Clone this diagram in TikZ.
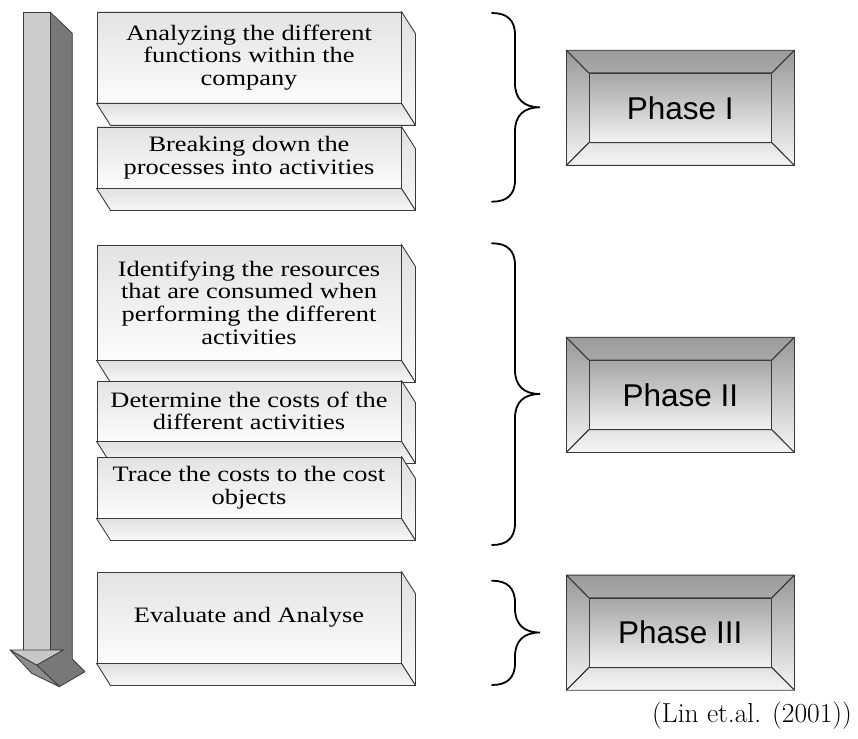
\documentclass[tikz,border=0pt]{standalone}
\usepackage{fontspec}
\usetikzlibrary{calc}
\newfontfamily\slabfont[FakeStretch=1.2]{Liberation Serif}
\newfontfamily\phasefont{Liberation Sans}

\definecolor{edgegray}{HTML}{3A3A3A}

\tikzset{
  edgeline/.style={draw=edgegray, line width=0.9pt, line join=round},
  slabfront/.style={edgeline, top color=black!11, bottom color=black!1,
    minimum width=304pt, inner sep=0pt, align=center,
    font=\slabfont\fontsize{22}{22.7}\selectfont},
  slabface/.style={edgeline, top color=black!12, bottom color=black!3},
  phaseouter/.style={edgeline, top color=black!40, bottom color=black!4,
    minimum width=227.3pt, minimum height=114.3pt, inner sep=0pt},
  phaseinner/.style={edgeline, top color=black!35, bottom color=black!5,
    minimum width=182.4pt, minimum height=69pt, inner sep=0pt,
    font=\phasefont\fontsize{31.5}{36}\selectfont},
  bevel/.style={edgeline},
  bracestroke/.style={draw=black, line width=1.8pt, line cap=round},
  shaftfront/.style={draw=edgegray, line width=0.8pt, fill=black!20, line join=round},
  shaftside/.style={draw=edgegray, line width=0.8pt, fill=black!53, line join=round},
  headleft/.style={draw=edgegray, line width=0.8pt, fill=black!45, line join=round},
  headtop/.style={draw=edgegray, line width=0.8pt, fill=black!22, line join=round},
}

% a slab: front face as a node, plus its side and bottom faces
\newcommand\slabbox[4]{% name, centre y, height, text
  \node[slabfront, minimum height=#3pt] (#1) at (249,#2) {#4};
  \path[slabface] (#1.north east) -- ++(14,22) -- ($(#1.south east)+(14,22)$)
    -- (#1.south east) -- cycle;
  \path[slabface] (#1.south west) -- (#1.south east) -- ($(#1.south east)+(14,22)$)
    -- ($(#1.south west)+(14,22)$) -- cycle;
}

% a bevelled phase panel
\newcommand\phasepanel[3]{% name, centre y, label
  \node[phaseouter] (#1o) at (680.35,#2) {};
  \path[bevel, top color=black!39, bottom color=black!34]
    (#1o.north west) -- (#1o.north east) -- ($(#1o.north east)+(-22.6,22.7)$)
    -- ($(#1o.north west)+(22.6,22.7)$) -- cycle;
  \path[bevel, top color=black!11, bottom color=black!4]
    (#1o.south west) -- (#1o.south east) -- ($(#1o.south east)+(-22.6,-22.7)$)
    -- ($(#1o.south west)+(22.6,-22.7)$) -- cycle;
  \node[phaseinner] (#1) at (680.35,#2) {#3};
  \draw[bevel] (#1o.north west) -- (#1.north west);
  \draw[bevel] (#1o.north east) -- (#1.north east);
  \draw[bevel] (#1o.south west) -- (#1.south west);
  \draw[bevel] (#1o.south east) -- (#1.south east);
}

% a curly brace pointing right: top, tip, bottom
\newcommand\rightcurl[3]{%
  \draw[bracestroke] (492,#1) .. controls (507,#1) and (515,#1+7) .. (515,#1+22)
    -- (515,#2-24) .. controls (515,#2-8) and (524,#2) .. (540,#2)
    .. controls (524,#2) and (515,#2+8) .. (515,#2+24)
    -- (515,#3-22) .. controls (515,#3-7) and (507,#3) .. (492,#3);
}

\begin{document}
\begin{tikzpicture}[x=1pt,y=-1pt]
\useasboundingbox (0,0) rectangle (858,738);

% process arrow
\path[shaftside] (50,12) -- (72.3,33.3) -- (72.3,659) -- (85,671.7) -- (59.3,686.7)
  -- (36.7,665) -- (63.3,650) -- (50,650) -- cycle;
\path[shaftfront] (23.3,12) -- (50,12) -- (50,650) -- (23.3,650) -- cycle;
\path[headleft] (10,650) -- (36.7,665) -- (59.3,686.7) -- (31.7,673.3) -- cycle;
\path[headtop] (10,650) -- (63.3,650) -- (36.7,665) -- cycle;

% activity slabs
\slabbox{s1}{57.5}{91}{Analyzing the different\\functions within the\\company}
\slabbox{s2}{157.5}{61}{Breaking down the\\processes into activities}
\slabbox{s3}{302.5}{115}{Identifying the resources\\that are consumed when\\performing the different\\activities}
\slabbox{s4}{411}{60}{Determine the costs of the\\different activities}
\slabbox{s5}{487.5}{61}{Trace the costs to the cost\\objects}
\slabbox{s6}{617.5}{91}{Evaluate and Analyse}

% braces
\rightcurl{13}{107.3}{201.7}
\rightcurl{243.3}{394}{545}
\rightcurl{580.7}{632.5}{685}

% phases
\phasepanel{p1}{107.85}{Phase I}
\phasepanel{p2}{394.85}{Phase II}
\phasepanel{p3}{632.65}{Phase III}

% source
\node[anchor=base west, inner sep=0pt, font=\fontsize{27.5}{30}\selectfont] (src) at (652,722)
  {(Lin et.al. (2001))};
\end{tikzpicture}
\end{document}
